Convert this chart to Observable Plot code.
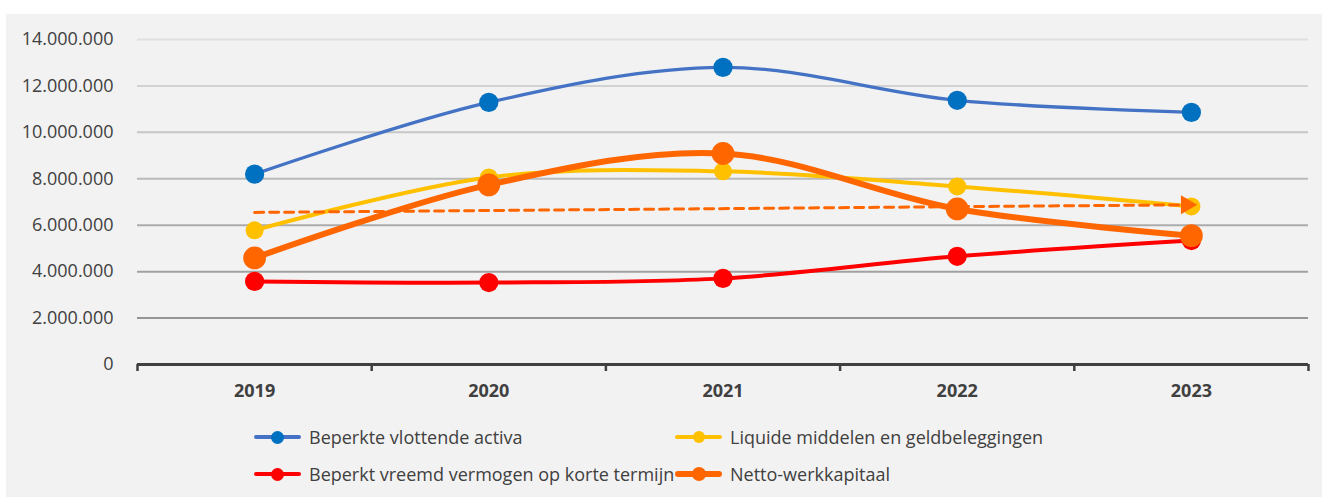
<!DOCTYPE html>
<html><head><meta charset="utf-8">
<script src="https://cdn.jsdelivr.net/npm/d3@7"></script>
<script src="https://cdn.jsdelivr.net/npm/@observablehq/plot@0.6"></script>
<style>
html,body{margin:0;padding:0;background:#fff;}
body{width:1322px;height:497px;overflow:hidden;position:relative;font-family:"Open Sans",sans-serif;}
#panel{position:absolute;left:6px;top:14px;right:0;bottom:0;background:#f2f2f2;}
#chart{position:absolute;left:0;top:0;}
.leg{position:absolute;height:0;}
.leg .ln{position:absolute;border-radius:3px;}
.leg .mk{position:absolute;border-radius:50%;}
.leg .tx{position:absolute;top:-13px;font-size:18px;line-height:26px;color:#404040;white-space:nowrap;}
</style></head><body>
<div id="panel"></div><div id="chart"></div><div id="legend"></div>
<script>
// ---- data ----
const years = [2019, 2020, 2021, 2022, 2023];
const seriesNames = [
  "Beperkte vlottende activa",
  "Liquide middelen en geldbeleggingen",
  "Beperkt vreemd vermogen op korte termijn",
  "Netto-werkkapitaal"
];
const beperkteVlottendeActiva = [8200000, 11290000, 12800000, 11380000, 10860000];
const liquideMiddelen = [5780000, 8060000, 8320000, 7670000, 6810000];
const beperktVreemdVermogen = [3580000, 3530000, 3710000, 4660000, 5340000];
const nettoWerkkapitaal = [4590000, 7740000, 9090000, 6700000, 5550000];
const trendYears = [2019, 2023];
const trendValues = [6550000, 6880000];
const yTicks = [0, 2000000, 4000000, 6000000, 8000000, 10000000, 12000000, 14000000];

// ---- styles ----
const styles = [
  {line: "#4472c4", dot: "#0070c0", sw: 3.3, r: 9.6, legSw: 4, legR: 6.5},
  {line: "#ffc000", dot: "#ffc000", sw: 4, r: 9, legSw: 4, legR: 6},
  {line: "#ff0000", dot: "#ff0000", sw: 4, r: 9.6, legSw: 4, legR: 6.5},
  {line: "#ff6600", dot: "#ff6600", sw: 6, r: 11.4, legSw: 6, legR: 7}
];
const gridColors = {2000000: "#959595", 4000000: "#a1a1a1", 6000000: "#acacac", 8000000: "#bababa",
  10000000: "#c6c6c6", 12000000: "#d2d2d2", 14000000: "#dfdfdf"};

const seriesValues = [beperkteVlottendeActiva, liquideMiddelen, beperktVreemdVermogen, nettoWerkkapitaal];
const series = seriesNames.map((name, k) => ({
  name,
  style: styles[k],
  data: years.map((year, i) => ({year, value: seriesValues[k][i]}))
}));
const trend = trendYears.map((year, i) => ({year, value: trendValues[i]}));
const boundaries = years.map(y => y - 0.5).concat([years[years.length - 1] + 0.5]);
const nl = d3.formatLocale({decimal: ",", thousands: ".", grouping: [3], currency: ["€", ""]});
const fmt = nl.format(",.0f");

const marks = [
  Plot.ruleY(yTicks.filter(v => v > 0), {y: d => d, stroke: d => gridColors[d], strokeWidth: 2}),
  Plot.axisY({ticks: yTicks, tickFormat: fmt, tickSize: 0, tickPadding: 24, fill: "#404040", fontSize: 18, label: null}),
  Plot.ruleY([0], {stroke: "#404040", strokeWidth: 3}),
  Plot.axisX({ticks: boundaries, tickFormat: () => "", tickSize: 7, stroke: "#404040", strokeWidth: 2.5, label: null}),
  Plot.axisX({ticks: years, tickFormat: d => String(d), tickSize: 0, tickPadding: 20, fill: "#404040", fontWeight: "bold", fontSize: 18, label: null})
];
for (const s of series) {
  marks.push(Plot.line(s.data, {x: "year", y: "value", stroke: s.style.line, strokeWidth: s.style.sw, curve: "catmull-rom"}));
  marks.push(Plot.dot(s.data, {x: "year", y: "value", r: s.style.r, fill: s.style.dot}));
}
marks.push(Plot.line(trend, {x: "year", y: "value", stroke: "#ff6600", strokeWidth: 3, strokeDasharray: "9,6"}));
marks.push(Plot.dot(trend.slice(-1), {x: "year", y: "value", symbol: "triangle", rotate: 90, r: 7, fill: "#ff6600", dx: -5}));

const chart = Plot.plot({
  width: 1322, height: 400,
  marginLeft: 137, marginRight: 14, marginTop: 39, marginBottom: 36,
  style: {background: "transparent", fontFamily: "Open Sans", fontSize: "18px", overflow: "visible"},
  x: {type: "linear", domain: [boundaries[0], boundaries[boundaries.length - 1]], label: null},
  y: {domain: [0, 14000000], label: null},
  color: {type: "identity"},
  marks
});
document.getElementById("chart").appendChild(chart);

// ---- legend (HTML below/over the panel) ----
const legPos = [
  {x: 254, y: 437, tx: 309}, {x: 675, y: 437, tx: 730},
  {x: 254, y: 474, tx: 309}, {x: 675, y: 474, tx: 730}
];
const legend = d3.select("#legend");
series.forEach((s, k) => {
  const p = legPos[k];
  const g = legend.append("div").attr("class", "leg").style("left", p.x + "px").style("top", p.y + "px");
  g.append("div").attr("class", "ln")
    .style("left", "0px").style("width", "47px")
    .style("top", (-s.style.legSw / 2) + "px").style("height", s.style.legSw + "px")
    .style("background", s.style.line);
  g.append("div").attr("class", "mk")
    .style("left", (23.5 - s.style.legR) + "px").style("top", (-s.style.legR) + "px")
    .style("width", 2 * s.style.legR + "px").style("height", 2 * s.style.legR + "px")
    .style("background", s.style.dot);
  g.append("div").attr("class", "tx").style("left", (p.tx - p.x) + "px").text(s.name);
});
</script>
</body></html>
